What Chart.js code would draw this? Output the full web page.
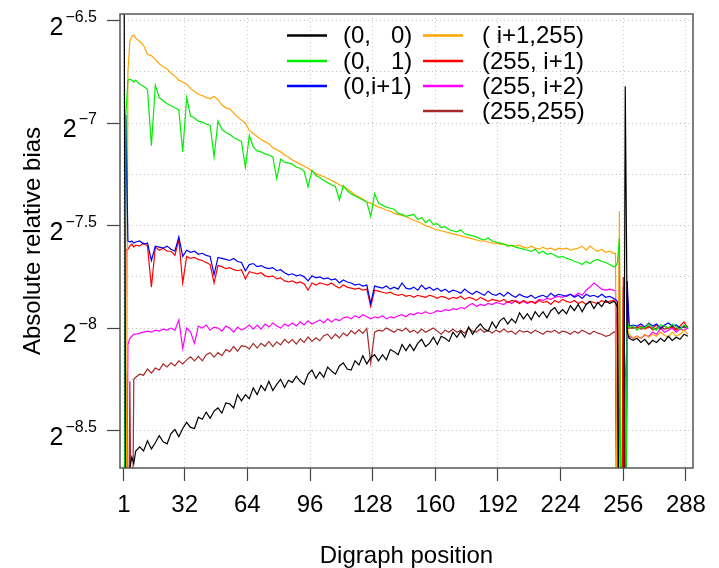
<!DOCTYPE html>
<html>
<head>
<meta charset="utf-8">
<script src="https://cdn.jsdelivr.net/npm/chart.js@4/dist/chart.umd.min.js"></script>
<style>
  html, body { margin: 0; padding: 0; background: #ffffff; }
  canvas { display: block; }
</style>
</head>
<body>
<canvas id="c" width="719" height="568"></canvas>
<script>
// ---------- data (y values are log2 of the absolute relative bias) ----------
const positions = [1,2,3,4,5,6,7,
  9,11,13,15,17,19,21,23,25,27,29,31,33,35,37,39,41,43,45,47,49,51,53,55,57,59,61,63,65,67,
  69,71,73,75,77,79,81,83,85,87,89,91,93,95,97,99,101,103,105,107,109,111,113,115,117,119,121,123,125,127,
  129,131,133,135,137,139,141,143,145,147,149,151,153,155,157,159,161,163,165,167,169,171,173,175,177,179,181,183,185,187,
  189,191,193,195,197,199,201,203,205,207,209,211,213,215,217,219,221,223,225,227,229,231,233,235,237,239,241,243,245,247,
  249,251,252,253,254,255,256,257,258,259,
  261,263,265,267,269,271,273,275,277,279,281,283,285,287,289];

const s00 = [-6.0,-9.5,-9.5,-8.68,-8.63,-8.66,-8.6,
  -8.58,-8.60,-8.55,-8.59,-8.56,-8.525,-8.555,-8.565,-8.515,-8.495,
  -8.53,-8.49,-8.46,-8.485,-8.49,-8.435,-8.445,-8.41,-8.44,-8.405,
  -8.39,-8.415,-8.365,-8.37,-8.39,-8.325,-8.355,-8.325,-8.345,-8.292,
  -8.325,-8.28,-8.305,-8.26,-8.305,-8.275,-8.25,-8.29,-8.255,-8.265,
  -8.235,-8.26,-8.275,-8.225,-8.205,-8.245,-8.215,-8.24,-8.19,-8.21,
  -8.225,-8.185,-8.17,-8.2,-8.205,-8.16,-8.18,-8.135,-8.175,-8.145,
  -8.13,-8.16,-8.13,-8.155,-8.105,-8.115,-8.13,-8.08,-8.11,-8.08,
  -8.11,-8.075,-8.055,-8.09,-8.075,-8.045,-8.08,-8.04,-8.05,-8.065,
  -8.02,-8.045,-8.015,-8.045,-7.995,-8.03,-8.0,-7.98,-8.005,-8.015,
  -7.97,-8.0,-7.965,-7.95,-7.98,-7.955,-7.975,-7.925,-7.955,-7.93,
  -7.96,-7.92,-7.945,-7.92,-7.95,-7.915,-7.9,-7.93,-7.91,-7.93,
  -7.89,-7.915,-7.885,-7.92,-7.885,-7.87,-7.905,-7.875,-7.895,-7.865,
  -7.88,-7.87,
  -7.875,-7.9,-9.5,-9.5,-9.5,-6.82,-8.02,-8.05,
  -8.06,-8.05,-8.07,-8.055,-8.08,-8.06,-8.07,-8.05,-8.065,-8.04,-8.06,-8.045,-8.055,-8.03,-8.04];

const s01 = [-9.5,-6.95,-6.79,-6.785,-6.79,-6.80,-6.79,
  -6.81,-6.82,-6.835,-7.11,-6.815,-6.875,-6.89,-6.905,-6.915,-6.925,
  -6.935,-7.14,-6.875,-6.965,-6.975,-6.99,-6.995,-7.005,-7.01,-7.165,
  -6.99,-7.03,-7.045,-7.055,-7.07,-7.08,-7.09,-7.215,-7.06,-7.115,
  -7.135,-7.14,-7.15,-7.155,-7.165,-7.27,-7.175,-7.19,-7.195,-7.20,
  -7.215,-7.22,-7.235,-7.31,-7.23,-7.255,-7.265,-7.28,-7.29,-7.30,
  -7.31,-7.375,-7.305,-7.33,-7.345,-7.355,-7.365,-7.375,-7.385,-7.455,
  -7.345,-7.39,-7.40,-7.41,-7.415,-7.42,-7.44,-7.445,-7.455,-7.45,
  -7.445,-7.47,-7.46,-7.485,-7.47,-7.495,-7.49,-7.51,-7.505,-7.52,
  -7.525,-7.53,-7.52,-7.54,-7.545,-7.55,-7.555,-7.565,-7.57,-7.56,
  -7.575,-7.58,-7.585,-7.59,-7.60,-7.595,-7.605,-7.61,-7.615,-7.62,
  -7.625,-7.615,-7.635,-7.625,-7.64,-7.635,-7.645,-7.655,-7.65,-7.66,
  -7.665,-7.675,-7.68,-7.69,-7.675,-7.685,-7.67,-7.665,-7.675,-7.68,
  -7.69,-7.70,
  -7.70,-7.68,-7.56,-9.5,-9.5,-9.5,-7.97,-8.0,
  -7.99,-8.01,-7.995,-8.0,-7.98,-8.0,-8.01,-7.985,-7.99,-8.0,-7.98,-7.995,-8.005,-7.985,-8.0];

const s0i1 = [-9.5,-6.96,-7.575,-7.58,-7.575,-7.585,-7.58,
  -7.575,-7.59,-7.585,-7.67,-7.60,-7.605,-7.61,-7.60,-7.615,-7.625,
  -7.555,-7.65,-7.62,-7.63,-7.625,-7.64,-7.635,-7.645,-7.65,-7.74,
  -7.655,-7.66,-7.665,-7.67,-7.66,-7.675,-7.68,-7.72,-7.69,-7.685,
  -7.70,-7.695,-7.705,-7.71,-7.705,-7.72,-7.715,-7.73,-7.74,-7.735,
  -7.745,-7.74,-7.75,-7.77,-7.745,-7.755,-7.75,-7.76,-7.755,-7.765,
  -7.76,-7.78,-7.765,-7.775,-7.78,-7.79,-7.785,-7.795,-7.79,-7.88,
  -7.795,-7.80,-7.805,-7.795,-7.81,-7.80,-7.81,-7.78,-7.805,-7.81,
  -7.80,-7.815,-7.79,-7.81,-7.80,-7.815,-7.805,-7.82,-7.81,-7.825,
  -7.815,-7.82,-7.83,-7.81,-7.825,-7.835,-7.82,-7.83,-7.84,-7.82,
  -7.835,-7.84,-7.83,-7.845,-7.825,-7.84,-7.85,-7.835,-7.845,-7.85,
  -7.84,-7.855,-7.845,-7.84,-7.85,-7.83,-7.845,-7.835,-7.84,-7.845,
  -7.835,-7.85,-7.84,-7.855,-7.835,-7.845,-7.84,-7.85,-7.835,-7.85,
  -7.845,-7.855,
  -7.86,-7.87,-9.5,-9.5,-9.5,-9.5,-7.77,-7.99,
  -7.985,-7.99,-7.98,-7.995,-7.975,-7.99,-7.98,-8.0,-7.985,-7.975,-7.99,-7.985,-8.0,-7.99,-7.995];

const si1_255 = [-9.5,-9.5,-6.75,-6.60,-6.575,-6.57,-6.585,
  -6.60,-6.62,-6.665,-6.67,-6.69,-6.71,-6.725,-6.735,-6.755,-6.77,
  -6.79,-6.80,-6.81,-6.83,-6.845,-6.86,-6.865,-6.875,-6.88,-6.87,
  -6.885,-6.91,-6.925,-6.93,-6.95,-6.97,-6.985,-7.00,-7.035,-7.05,
  -7.065,-7.08,-7.09,-7.10,-7.12,-7.13,-7.14,-7.155,-7.165,-7.18,
  -7.19,-7.20,-7.21,-7.22,-7.235,-7.245,-7.255,-7.26,-7.27,-7.28,
  -7.29,-7.30,-7.31,-7.32,-7.335,-7.35,-7.36,-7.37,-7.385,-7.39,
  -7.40,-7.41,-7.415,-7.425,-7.43,-7.44,-7.445,-7.45,-7.455,-7.465,
  -7.475,-7.48,-7.49,-7.50,-7.505,-7.515,-7.52,-7.525,-7.53,-7.535,
  -7.54,-7.545,-7.55,-7.555,-7.56,-7.565,-7.57,-7.575,-7.575,-7.58,
  -7.585,-7.585,-7.59,-7.59,-7.595,-7.60,-7.60,-7.595,-7.605,-7.61,
  -7.60,-7.61,-7.615,-7.605,-7.615,-7.61,-7.62,-7.61,-7.615,-7.61,
  -7.62,-7.615,-7.61,-7.60,-7.62,-7.60,-7.615,-7.625,-7.615,-7.63,
  -7.625,-7.635,
  -7.635,-9.5,-7.43,-9.5,-9.5,-9.5,-8.0,-8.03,
  -8.05,-8.04,-8.05,-8.03,-8.045,-8.03,-8.04,-8.02,-8.035,-8.045,-8.02,-8.04,-8.03,-8.01,-8.03];

const s255_i1 = [-9.5,-7.62,-7.615,-7.60,-7.59,-7.605,-7.595,
  -7.60,-7.585,-7.60,-7.80,-7.605,-7.62,-7.61,-7.625,-7.625,-7.645,
  -7.57,-7.78,-7.65,-7.66,-7.655,-7.665,-7.67,-7.68,-7.69,-7.78,
  -7.695,-7.70,-7.71,-7.705,-7.715,-7.72,-7.715,-7.76,-7.725,-7.73,
  -7.735,-7.73,-7.745,-7.75,-7.745,-7.76,-7.755,-7.77,-7.775,-7.77,
  -7.78,-7.775,-7.785,-7.815,-7.78,-7.79,-7.78,-7.785,-7.79,-7.78,
  -7.795,-7.805,-7.79,-7.80,-7.805,-7.81,-7.805,-7.815,-7.81,-7.895,
  -7.815,-7.82,-7.825,-7.83,-7.825,-7.835,-7.84,-7.835,-7.845,-7.84,
  -7.85,-7.84,-7.845,-7.85,-7.84,-7.845,-7.855,-7.845,-7.85,-7.86,
  -7.85,-7.855,-7.845,-7.86,-7.85,-7.855,-7.865,-7.85,-7.86,-7.87,
  -7.86,-7.865,-7.87,-7.86,-7.875,-7.865,-7.87,-7.88,-7.865,-7.875,
  -7.87,-7.88,-7.865,-7.875,-7.87,-7.885,-7.865,-7.875,-7.86,-7.87,
  -7.875,-7.865,-7.88,-7.87,-7.885,-7.87,-7.875,-7.88,-7.865,-7.875,
  -7.87,-7.865,
  -7.87,-9.5,-7.62,-9.5,-7.75,-9.5,-7.82,-8.0,
  -7.995,-8.0,-7.99,-8.005,-7.995,-8.0,-7.985,-8.005,-7.99,-8.0,-7.995,-8.01,-7.99,-7.97,-8.0];

const s255_i2 = [-9.5,-9.5,-8.08,-8.05,-8.04,-8.03,-8.03,
  -8.025,-8.02,-8.015,-8.02,-8.01,-8.015,-8.005,-8.01,-8.0,-8.01,
  -7.96,-8.10,-8.0,-8.02,-8.075,-7.99,-8.0,-7.985,-8.01,-7.995,
  -8.0,-8.015,-7.99,-8.0,-8.02,-7.995,-8.01,-8.0,-7.985,-8.005,
  -7.985,-8.005,-7.98,-7.995,-7.975,-7.99,-8.0,-7.98,-7.99,-7.975,
  -7.99,-7.97,-7.985,-7.965,-7.98,-7.97,-7.96,-7.975,-7.955,-7.97,
  -7.955,-7.965,-7.95,-7.945,-7.955,-7.94,-7.95,-7.935,-7.945,-7.955,
  -7.945,-7.95,-7.94,-7.955,-7.945,-7.95,-7.94,-7.935,-7.945,-7.93,
  -7.935,-7.925,-7.93,-7.92,-7.93,-7.925,-7.915,-7.92,-7.91,-7.915,
  -7.905,-7.91,-7.90,-7.905,-7.89,-7.88,-7.895,-7.885,-7.89,-7.88,
  -7.885,-7.875,-7.88,-7.885,-7.87,-7.88,-7.865,-7.875,-7.87,-7.88,
  -7.87,-7.875,-7.86,-7.865,-7.855,-7.86,-7.85,-7.845,-7.85,-7.84,
  -7.835,-7.845,-7.83,-7.84,-7.815,-7.80,-7.78,-7.795,-7.81,-7.815,
  -7.81,-7.815,
  -7.82,-8.10,-9.5,-9.5,-9.5,-8.25,-8.05,-8.04,
  -8.05,-8.04,-8.05,-8.035,-8.04,-8.02,-8.03,-8.0,-8.02,-8.01,-8.0,-8.02,-8.005,-8.01,-8.0];

const s255_255 = [-9.5,-8.22,-9.5,-8.26,-9.5,-8.25,-8.24,
  -8.225,-8.23,-8.20,-8.22,-8.195,-8.205,-8.175,-8.19,-8.17,-8.185,
  -8.16,-8.175,-8.155,-8.14,-8.16,-8.138,-8.16,-8.13,-8.12,-8.142,
  -8.12,-8.135,-8.105,-8.115,-8.09,-8.113,-8.086,-8.089,-8.102,-8.075,
  -8.098,-8.074,-8.089,-8.065,-8.09,-8.067,-8.082,-8.055,-8.073,-8.056,
  -8.078,-8.053,-8.07,-8.043,-8.065,-8.047,-8.062,-8.037,-8.03,-8.053,
  -8.03,-8.048,-8.024,-8.038,-8.012,-8.028,-8.008,-8.026,-8.002,-8.17,
  -8.02,-8.01,-8.015,-8.0,-8.01,-8.02,-8.005,-8.015,-8.0,-8.02,
  -8.01,-8.025,-8.005,-8.02,-8.01,-8.0,-8.015,-8.03,-8.01,-8.02,
  -8.005,-8.02,-8.01,-8.025,-8.0,-8.015,-8.02,-8.005,-8.02,-8.01,
  -8.025,-8.01,-8.02,-8.005,-8.02,-8.015,-8.03,-8.01,-8.02,-8.015,
  -8.025,-8.01,-8.02,-8.03,-8.015,-8.02,-8.01,-8.025,-8.015,-8.02,
  -8.03,-8.015,-8.025,-8.01,-8.02,-8.03,-8.015,-8.025,-8.03,-8.04,
  -8.035,-8.02,
  -8.02,-9.5,-7.9,-9.5,-7.8,-9.5,-8.0,-8.0,
  -8.0,-7.995,-8.005,-8.0,-7.99,-8.01,-8.0,-7.995,-8.005,-8.0,-7.99,-8.005,-8.0,-7.995,-8.0];

const seriesLabels = ['(0,   0)', '(0,   1)', '(0,i+1)', '( i+1,255)', '(255, i+1)', '(255, i+2)', '(255,255)'];
const seriesColors = ['#000000', '#00ee00', '#0000ff', '#ffa500', '#ff0000', '#ff00ff', '#a52a2a'];
const seriesValues = [s00, s01, s0i1, si1_255, s255_i1, s255_i2, s255_255];

const xTicks = [1, 32, 64, 96, 128, 160, 192, 224, 256, 288];
const yGrid = [-8.5, -8.25, -8, -7.75, -7.5, -7.25, -7, -6.75, -6.5];
const yLabelExponents = [-8.5, -8, -7.5, -7, -6.5];

// ---------- chart ----------
const FONT = '"Liberation Sans", Arial, Helvetica, sans-serif';

const datasets = seriesValues.map((vals, k) => ({
  label: seriesLabels[k],
  data: positions.map((p, i) => ({ x: p, y: vals[i] })),
  borderColor: seriesColors[k],
  backgroundColor: seriesColors[k],
  borderWidth: 1.2,
  pointRadius: 0,
  tension: 0,
  fill: false
}));

const decor = {
  id: 'decor',
  afterDraw(chart) {
    const ctx = chart.ctx, a = chart.chartArea, ys = chart.scales.y;
    ctx.save();
    ctx.setLineDash([]);
    // plot frame
    ctx.strokeStyle = '#555555';
    ctx.lineWidth = 1.5;
    ctx.strokeRect(a.left, a.top, a.right - a.left, a.bottom - a.top);
    // y tick labels 2^e
    ctx.fillStyle = '#000';
    ctx.textAlign = 'left';
    ctx.textBaseline = 'alphabetic';
    const right = 97;
    yLabelExponents.forEach(v => {
      const py = ys.getPixelForValue(v);
      const exp = '\u2212' + String(Math.abs(v));
      ctx.font = '16px ' + FONT;
      const ew = ctx.measureText(exp).width;
      ctx.font = '25px ' + FONT;
      const bw = ctx.measureText('2').width;
      ctx.fillText('2', right - ew - bw - 2, py + 14);
      ctx.font = '16px ' + FONT;
      ctx.fillText(exp, right - ew, py + 1);
    });
    // legend (two columns)
    const cols = [
      { x0: 287, x1: 327, tx: 343, items: [0, 1, 2] },
      { x0: 423, x1: 463, tx: 482, items: [3, 4, 5, 6] }
    ];
    const rowY = [35.5, 61, 86, 111];
    ctx.font = '24px ' + FONT;
    ctx.textBaseline = 'middle';
    cols.forEach(c => {
      c.items.forEach((k, r) => {
        const y = rowY[r];
        ctx.strokeStyle = seriesColors[k];
        ctx.lineWidth = 2.6;
        ctx.beginPath();
        ctx.moveTo(c.x0, y);
        ctx.lineTo(c.x1, y);
        ctx.stroke();
        ctx.fillStyle = '#000';
        ctx.fillText(seriesLabels[k], c.tx, y + 1);
      });
    });
    ctx.restore();
  }
};

new Chart(document.getElementById('c'), {
  type: 'line',
  data: { datasets },
  options: {
    responsive: false,
    animation: false,
    devicePixelRatio: 1,
    layout: { padding: { left: 0, right: 26, top: 14, bottom: 0 } },
    plugins: { legend: { display: false }, tooltip: { enabled: false } },
    scales: {
      x: {
        type: 'linear',
        min: -1.04,
        max: 291.6,
        afterBuildTicks: s => { s.ticks = xTicks.map(v => ({ value: v })); },
        afterFit: s => { s.height = 100; s.paddingLeft = 0; s.paddingRight = 0; },
        ticks: {
          autoSkip: false,
          maxRotation: 0,
          padding: 10,
          color: '#000',
          font: { family: FONT, size: 24 },
          callback: v => String(v)
        },
        grid: {
          color: '#c4c4c4',
          lineWidth: 1,
          tickLength: 13,
          tickColor: '#444',
          tickWidth: 1.2,
          tickBorderDash: []
        },
        border: { display: false, dash: [1, 3] },
        title: {
          display: true,
          text: 'Digraph position',
          color: '#000',
          font: { family: FONT, size: 24, lineHeight: 1 },
          padding: { top: 0, bottom: 0 }
        }
      },
      y: {
        type: 'linear',
        min: -8.683,
        max: -6.467,
        afterBuildTicks: s => { s.ticks = yGrid.map(v => ({ value: v })); },
        afterFit: s => { s.width = 120; s.paddingTop = 0; s.paddingBottom = 0; },
        ticks: { display: false },
        grid: {
          color: '#c4c4c4',
          lineWidth: 1,
          tickLength: 13,
          tickWidth: 1.2,
          tickBorderDash: [],
          tickColor: c => (c.tick && Math.abs(c.tick.value * 2 - Math.round(c.tick.value * 2)) < 1e-6) ? '#444' : 'rgba(0,0,0,0)'
        },
        border: { display: false, dash: [1, 3] },
        title: {
          display: true,
          text: 'Absolute relative bias',
          color: '#000',
          font: { family: FONT, size: 24, lineHeight: 1 },
          padding: { top: 21, bottom: 0 }
        }
      }
    }
  },
  plugins: [decor]
});
</script>
</body>
</html>
